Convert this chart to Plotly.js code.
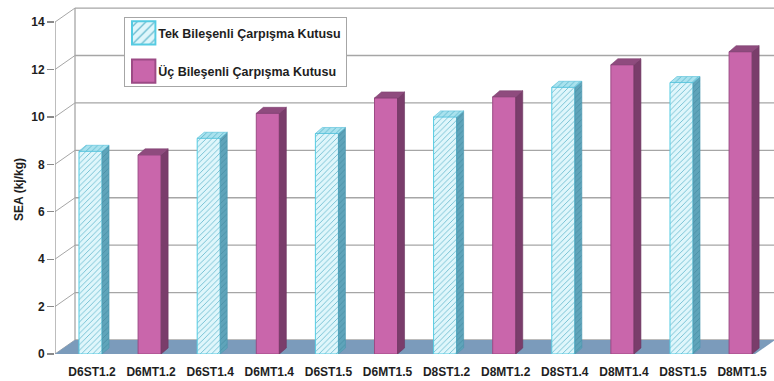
<!DOCTYPE html>
<html>
<head>
<meta charset="utf-8">
<script src="https://cdn.plot.ly/plotly-3.0.1.min.js"></script>
<style>
  html, body { margin: 0; padding: 0; background: #ffffff; }
  #chart { width: 774px; height: 381px; }
</style>
</head>
<body>
<div id="chart"></div>
<script>
// SEA values of the crash boxes (single-part vs three-part designs)
const categories = ['D6ST1.2', 'D6MT1.2', 'D6ST1.4', 'D6MT1.4', 'D6ST1.5', 'D6MT1.5',
                    'D8ST1.2', 'D8MT1.2', 'D8ST1.4', 'D8MT1.4', 'D8ST1.5', 'D8MT1.5'];
const tekSEA = [8.55, null, 9.1, null, 9.3, null, 10.0, null, 11.25, null, 11.45, null];
const ucSEA  = [null, 8.4, null, 10.15, null, 10.8, null, 10.85, null, 12.2, null, 12.75];
const seriesNames = ['Tek Bileşenli Çarpışma Kutusu', 'Üç Bileşenli Çarpışma Kutusu'];
const yTicks = [0, 2, 4, 6, 8, 10, 12, 14];
const yTitle = 'SEA (kj/kg)';

// ---- page geometry and pseudo-3D depth -------------------------------
const W = 774, H = 381;
const M = { l: 55, r: 0, t: 7, b: 27 };
const X0 = -0.626, X1 = 11.54, Y0 = 0, Y1 = 14.635;
const pxX = (W - M.l - M.r) / (X1 - X0);
const pxY = (H - M.t - M.b) / (Y1 - Y0);
const ux = p => p / pxX, uy = p => p / pxY;

const wallDX = ux(20), wallDY = uy(14);   // depth of floor / walls
const barDX = ux(7), barDY = uy(6);       // depth of each column
const barOffset = -0.22, barWidth = 0.39;
const floorRight = 11.22;

const xs = categories.map((_, i) => i);

// side and top faces of the columns, one closed polygon per bar
function faces(values) {
  const side = { x: [], y: [] }, cap = { x: [], y: [] };
  values.forEach((v, i) => {
    if (v === null) return;
    const a = i + barOffset, b = a + barWidth;
    side.x.push(b, b + barDX, b + barDX, b, b, null);
    side.y.push(0, barDY, v + barDY, v, 0, null);
    cap.x.push(a, a + barDX, b + barDX, b, a, null);
    cap.y.push(v, v + barDY, v + barDY, v, v, null);
  });
  return { side, cap };
}

const tekFaces = faces(tekSEA);
const ucFaces = faces(ucSEA);

const hatch = (fg, bg) => ({ shape: '/', fgcolor: fg, bgcolor: bg, size: 4, solidity: 0.22 });

const traces = [
  {
    type: 'bar', name: seriesNames[0], x: xs, y: tekSEA, base: 0,
    offset: barOffset, width: barWidth, legendgroup: 'a',
    marker: { color: '#dff6fb', line: { color: '#55cbe2', width: 1 },
              pattern: hatch('#6cbcd0', '#dff6fb') },
    hoverinfo: 'skip'
  },
  {
    type: 'bar', name: seriesNames[1], x: xs, y: ucSEA, base: 0,
    offset: barOffset, width: barWidth, legendgroup: 'b',
    marker: { color: '#c966ab', line: { color: '#9c4a85', width: 1 } },
    hoverinfo: 'skip'
  },
  {
    type: 'scatter', mode: 'lines', x: tekFaces.side.x, y: tekFaces.side.y,
    fill: 'toself', fillcolor: '#5fa4ba', fillpattern: hatch('#488fa6', '#5fa4ba'),
    line: { color: '#4a97b0', width: 0.6 }, showlegend: false, hoverinfo: 'skip'
  },
  {
    type: 'scatter', mode: 'lines', x: tekFaces.cap.x, y: tekFaces.cap.y,
    fill: 'toself', fillcolor: '#a9e2ee', fillpattern: hatch('#5ab6cc', '#a9e2ee'),
    line: { color: '#52c0da', width: 0.6 }, showlegend: false, hoverinfo: 'skip'
  },
  {
    type: 'scatter', mode: 'lines', x: ucFaces.side.x, y: ucFaces.side.y,
    fill: 'toself', fillcolor: '#7a3d6b',
    line: { color: '#6d355f', width: 0.6 }, showlegend: false, hoverinfo: 'skip'
  },
  {
    type: 'scatter', mode: 'lines', x: ucFaces.cap.x, y: ucFaces.cap.y,
    fill: 'toself', fillcolor: '#8f4b7e',
    line: { color: '#7e4070', width: 0.6 }, showlegend: false, hoverinfo: 'skip'
  }
];

// ---- walls, floor and gridlines ---------------------------------------
const gridColor = '#a6a6a6';
const shapes = [];
const topTick = yTicks[yTicks.length - 1];

yTicks.forEach(v => {
  // back wall gridline
  shapes.push({ type: 'line', layer: 'below', xref: 'x', yref: 'y',
    x0: X0 + wallDX, x1: X1, y0: v + wallDY, y1: v + wallDY,
    line: { color: gridColor, width: 1.3 } });
  // side wall diagonal
  shapes.push({ type: 'line', layer: 'below', xref: 'x', yref: 'y',
    x0: X0, x1: X0 + wallDX, y0: v, y1: v + wallDY,
    line: { color: gridColor, width: 1 } });
});
// back wall left edge and front axis line
shapes.push({ type: 'line', layer: 'below', xref: 'x', yref: 'y',
  x0: X0 + wallDX, x1: X0 + wallDX, y0: wallDY, y1: topTick + wallDY,
  line: { color: gridColor, width: 1.3 } });
shapes.push({ type: 'line', layer: 'below', xref: 'x', yref: 'y',
  x0: X0, x1: X0, y0: 0, y1: topTick,
  line: { color: '#9a9a9a', width: 1.3 } });
// floor
shapes.push({ type: 'path', layer: 'below', xref: 'x', yref: 'y',
  path: `M${X0},0 L${floorRight},0 L${floorRight + wallDX},${wallDY} L${X0 + wallDX},${wallDY} Z`,
  fillcolor: '#7b9bbb', line: { width: 0 } });

const tickFont = { family: 'Liberation Sans, Arial, sans-serif', size: 12, color: '#1e1e1e', weight: 'bold' };

const layout = {
  width: W, height: H,
  margin: M,
  paper_bgcolor: '#ffffff', plot_bgcolor: 'rgba(0,0,0,0)',
  showlegend: true,
  barmode: 'overlay',
  xaxis: {
    type: 'linear', range: [X0, X1], tickvals: xs, ticktext: categories,
    showgrid: false, zeroline: false, showline: false,
    ticks: 'outside', ticklen: 7, tickcolor: 'rgba(0,0,0,0)',
    tickfont: tickFont, fixedrange: true
  },
  yaxis: {
    range: [Y0, Y1], tickvals: yTicks, ticktext: yTicks.map(String),
    showgrid: false, zeroline: false, showline: false,
    ticks: 'outside', ticklen: 7, tickwidth: 1.2, tickcolor: '#8a8a8a',
    tickfont: tickFont, fixedrange: true
  },
  shapes: shapes,
  annotations: [{
    text: yTitle, textangle: -90, showarrow: false,
    xref: 'paper', yref: 'y', x: (19 - M.l) / (W - M.l - M.r), y: 6.92,
    xanchor: 'center', yanchor: 'middle',
    font: { family: 'Liberation Sans, Arial, sans-serif', size: 12, color: '#1e1e1e', weight: 'bold' }
  }],
  legend: {
    x: (124 - M.l) / (W - M.l - M.r), y: 0.971, xanchor: 'left', yanchor: 'top',
    bgcolor: '#ffffff', bordercolor: '#a6a6a6', borderwidth: 1.2,
    traceorder: 'grouped', tracegroupgap: 19,
    font: { family: 'Liberation Sans, Arial, sans-serif', size: 12.5, color: '#1e1e1e', weight: 'bold' }
  }
};

Plotly.newPlot('chart', traces, layout, { displayModeBar: false, staticPlot: true }).then(gd => {
  // larger legend swatches, text pulled closer to them
  const shift = 7;
  gd.querySelectorAll('.legend .legendpoints path').forEach(p => {
    const t = p.getAttribute('transform') || '';
    p.setAttribute('transform', t + ' translate(-1.5,0) scale(1.95)');
  });
  gd.querySelectorAll('.legend .legendtext').forEach(t => {
    const x = parseFloat(t.getAttribute('x') || '0');
    t.setAttribute('x', x - shift);
  });
  const bg = gd.querySelector('.legend rect.bg');
  if (bg) bg.setAttribute('width', parseFloat(bg.getAttribute('width')) - shift);
});
</script>
</body>
</html>
